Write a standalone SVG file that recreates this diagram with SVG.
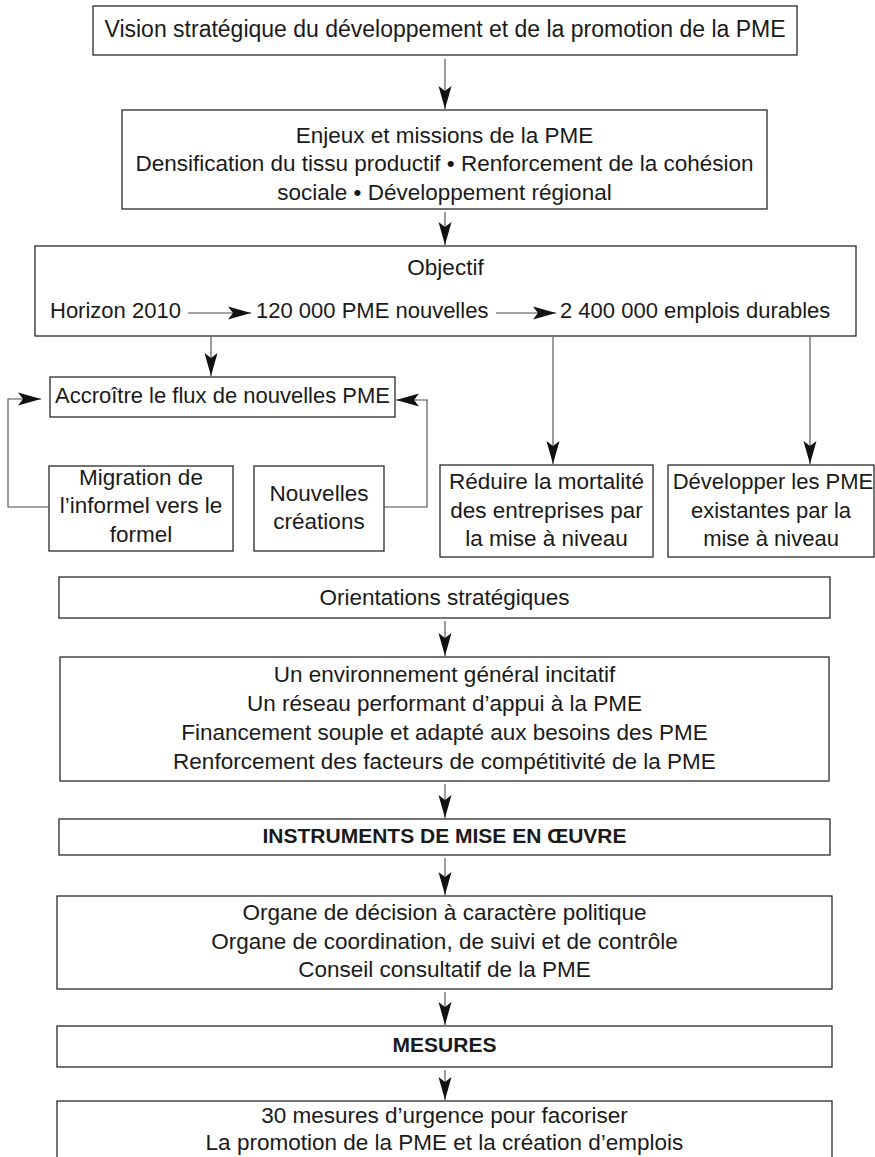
<svg xmlns="http://www.w3.org/2000/svg" width="875" height="1157" viewBox="0 0 875 1157">
<style>
.box{fill:#fff;stroke:#2a2a2a;stroke-width:1.3}
.t{font-family:"Liberation Sans",Arial,sans-serif;font-size:22.5px;fill:#1a1a1a;text-anchor:middle}
.b{font-weight:bold;font-size:21px}
.c{fill:none;stroke:#4a4a4a;stroke-width:1.1}
</style>
<defs>
<marker id="ah" markerUnits="userSpaceOnUse" markerWidth="26" markerHeight="16" viewBox="-24 -8 26 16" refX="0" refY="0" orient="auto">
<path d="M0,0 L-23,-6.5 L-18,0 L-23,6.5 Z" fill="#111"/>
</marker>
</defs>
<rect width="875" height="1157" fill="#fff"/>
<g id="vision">
<rect class="box" x="93" y="6" width="704" height="49"/>
<text class="t" x="445" y="37" style="font-size:23px">Vision stratégique du développement et de la promotion de la PME</text>
</g>
<g id="enjeux">
<rect class="box" x="122" y="110" width="645" height="99"/>
<text class="t" x="444.5" y="142.5">Enjeux et missions de la PME</text>
<text class="t" x="444.5" y="171">Densification du tissu productif • Renforcement de la cohésion</text>
<text class="t" x="444.5" y="199.5">sociale • Développement régional</text>
</g>
<g id="objectif">
<rect class="box" x="35" y="246" width="821" height="90"/>
<text class="t" x="445.5" y="275">Objectif</text>
<text class="t" x="50" y="318" style="text-anchor:start;font-size:22px">Horizon 2010</text>
<text class="t" x="256" y="318" style="text-anchor:start;font-size:22px">120 000 PME nouvelles</text>
<text class="t" x="560" y="318" style="text-anchor:start;font-size:22px">2 400 000 emplois durables</text>
</g>
<g id="accroitre">
<rect class="box" x="50" y="377" width="345" height="40"/>
<text class="t" x="222.5" y="403" style="font-size:22px">Accroître le flux de nouvelles PME</text>
</g>
<g id="migration">
<rect class="box" x="49" y="466" width="184" height="85"/>
<text class="t" x="141" y="485">Migration de</text>
<text class="t" x="141" y="513">l’informel vers le</text>
<text class="t" x="141" y="542">formel</text>
</g>
<g id="nouvelles">
<rect class="box" x="254" y="466" width="130" height="85"/>
<text class="t" x="319" y="501">Nouvelles</text>
<text class="t" x="319" y="529">créations</text>
</g>
<g id="reduire">
<rect class="box" x="440" y="465" width="213" height="92"/>
<text class="t" x="546.5" y="489">Réduire la mortalité</text>
<text class="t" x="546.5" y="518">des entreprises par</text>
<text class="t" x="546.5" y="546">la mise à niveau</text>
</g>
<g id="developper">
<rect class="box" x="668" y="465" width="206" height="92"/>
<text class="t" x="773" y="489" style="font-size:22px">Développer les PME</text>
<text class="t" x="771" y="518" style="font-size:22px">existantes par la</text>
<text class="t" x="771" y="546" style="font-size:22px">mise à niveau</text>
</g>
<g id="orientations">
<rect class="box" x="59" y="577" width="771" height="41"/>
<text class="t" x="444.5" y="605">Orientations stratégiques</text>
</g>
<g id="axes">
<rect class="box" x="60" y="657" width="769" height="124"/>
<text class="t" x="444.5" y="682">Un environnement général incitatif</text>
<text class="t" x="444.5" y="711">Un réseau performant d’appui à la PME</text>
<text class="t" x="444.5" y="740">Financement souple et adapté aux besoins des PME</text>
<text class="t" x="444.5" y="768.5">Renforcement des facteurs de compétitivité de la PME</text>
</g>
<g id="instruments">
<rect class="box" x="59" y="819" width="771" height="36"/>
<text class="t b" x="444.5" y="843">INSTRUMENTS DE MISE EN ŒUVRE</text>
</g>
<g id="organes">
<rect class="box" x="57" y="896" width="775" height="93"/>
<text class="t" x="444.5" y="920">Organe de décision à caractère politique</text>
<text class="t" x="444.5" y="948.5">Organe de coordination, de suivi et de contrôle</text>
<text class="t" x="444.5" y="977">Conseil consultatif de la PME</text>
</g>
<g id="mesures">
<rect class="box" x="57" y="1026" width="775" height="41"/>
<text class="t b" x="444.5" y="1052">MESURES</text>
</g>
<g id="urgence">
<rect class="box" x="57" y="1101" width="775" height="80"/>
<text class="t" x="444.5" y="1123">30 mesures d’urgence pour facoriser</text>
<text class="t" x="444.5" y="1150">La promotion de la PME et la création d’emplois</text>
</g>
<g id="connectors">
<line class="c" x1="445" y1="59" x2="445" y2="109" marker-end="url(#ah)"/>
<line class="c" x1="445" y1="212" x2="445" y2="245" marker-end="url(#ah)"/>
<line class="c" x1="188" y1="313" x2="251" y2="313" marker-end="url(#ah)"/>
<line class="c" x1="496" y1="313" x2="556" y2="313" marker-end="url(#ah)"/>
<line class="c" x1="211" y1="337" x2="211" y2="376" marker-end="url(#ah)"/>
<line class="c" x1="553" y1="337" x2="553" y2="464" marker-end="url(#ah)"/>
<line class="c" x1="810" y1="337" x2="810" y2="464" marker-end="url(#ah)"/>
<polyline class="c" points="49,507 8,507 8,399 41,399" marker-end="url(#ah)"/>
<polyline class="c" points="384,507 427,507 427,400 396,400" marker-end="url(#ah)"/>
<line class="c" x1="445" y1="621" x2="445" y2="656" marker-end="url(#ah)"/>
<line class="c" x1="445" y1="784" x2="445" y2="818" marker-end="url(#ah)"/>
<line class="c" x1="445" y1="858" x2="445" y2="895" marker-end="url(#ah)"/>
<line class="c" x1="445" y1="992" x2="445" y2="1025" marker-end="url(#ah)"/>
<line class="c" x1="445" y1="1070" x2="445" y2="1100" marker-end="url(#ah)"/>
</g>
</svg>
